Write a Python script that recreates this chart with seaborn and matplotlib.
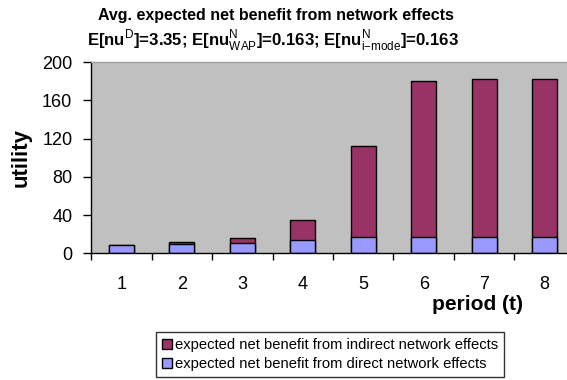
import matplotlib
matplotlib.use("Agg")
import matplotlib.pyplot as plt
from matplotlib.patches import Patch
import seaborn as sns
import pandas as pd

periods = ["1", "2", "3", "4", "5", "6", "7", "8"]
direct_benefit = [8.7, 9.4, 11.1, 13.9, 17.4, 17.4, 17.4, 17.4]
indirect_benefit = [0.0, 2.1, 4.9, 20.9, 94.6, 163.1, 164.8, 164.9]
y_ticks = [0, 40, 80, 120, 160, 200]

label_indirect = "expected net benefit from indirect network effects"
label_direct = "expected net benefit from direct network effects"
color_indirect = "#993366"
color_direct = "#9999ff"

df = pd.DataFrame({
    "period": periods,
    "direct": direct_benefit,
    "total": [d + i for d, i in zip(direct_benefit, indirect_benefit)],
})

sns.set_style("white")
plt.rcParams["font.family"] = ["Liberation Sans", "DejaVu Sans"]
plt.rcParams["mathtext.fontset"] = "custom"
plt.rcParams["mathtext.rm"] = "Liberation Sans"
plt.rcParams["mathtext.bf"] = "Liberation Sans:bold"
plt.rcParams["text.color"] = "black"
plt.rcParams["xtick.labelcolor"] = "black"
plt.rcParams["ytick.labelcolor"] = "black"

fig = plt.figure(figsize=(5.67, 3.80), dpi=100)
ax = fig.add_axes([0.1605, 0.3334, 0.8536, 0.5034])
ax.set_facecolor("#c0c0c0")

# stacked bars: full height in the indirect colour, direct part drawn over the base
sns.barplot(data=df, x="period", y="total", color=color_indirect, saturation=1,
            width=0.42, edgecolor="black", linewidth=1.0, ax=ax)
sns.barplot(data=df, x="period", y="direct", color=color_direct, saturation=1,
            width=0.42, edgecolor="black", linewidth=1.0, ax=ax)

ax.set_xlim(-0.5, 7.5)
ax.set_ylim(0, 200)
ax.set_yticks(y_ticks)
ax.set_yticklabels([str(v) for v in y_ticks], fontsize=13)
ax.tick_params(axis="y", direction="out", length=6, width=1, pad=7.5, left=True,
               color="black", labelcolor="black")
ax.set_xticks(range(len(periods)))
ax.set_xticklabels(periods, fontsize=13)
ax.tick_params(axis="x", which="major", length=0, pad=16, labelcolor="black")
ax.set_xticks([i - 0.5 for i in range(len(periods) + 1)], minor=True)
ax.tick_params(axis="x", which="minor", direction="out", length=5, width=1, bottom=True, color="black")
ax.set_xlabel("")
ax.set_ylabel("")

for side in ["top", "right"]:
    ax.spines[side].set_color("#a0a0a0")
    ax.spines[side].set_linewidth(1)
for side in ["left", "bottom"]:
    ax.spines[side].set_color("black")
    ax.spines[side].set_linewidth(1)

fig.text(0.487, 0.958, "Avg. expected net benefit from network effects",
         ha="center", va="center", fontsize=11.5, fontweight="bold", color="black")
fig.text(0.482, 0.893,
         r"E[nu$^{\mathrm{D}}$]=3.35; E[nu$^{\mathrm{N}}_{\mathrm{WAP}}$]=0.163; "
         r"E[nu$^{\mathrm{N}}_{\mathrm{i{-}mode}}$]=0.163",
         ha="center", va="center", fontsize=12.1, fontweight="bold", color="black")

fig.text(0.038, 0.585, "utility", rotation=90, ha="center", va="center",
         fontsize=16, fontweight="bold", color="black")
fig.text(0.843, 0.199, "period (t)", ha="center", va="center",
         fontsize=15, fontweight="bold", color="black")

handles = [
    Patch(facecolor=color_indirect, edgecolor="black", linewidth=1, label=label_indirect),
    Patch(facecolor=color_direct, edgecolor="black", linewidth=1, label=label_direct),
]
leg = fig.legend(handles=handles, loc="center", bbox_to_anchor=(0.582, 0.066),
                 fontsize=10.6, frameon=True, fancybox=False, edgecolor="black",
                 handlelength=0.65, handleheight=0.65, handletextpad=0.2,
                 labelspacing=0.35, borderpad=0.4, borderaxespad=0, labelcolor="black")
leg.get_frame().set_linewidth(1)

fig.savefig("out.png", dpi=100, facecolor="white")
